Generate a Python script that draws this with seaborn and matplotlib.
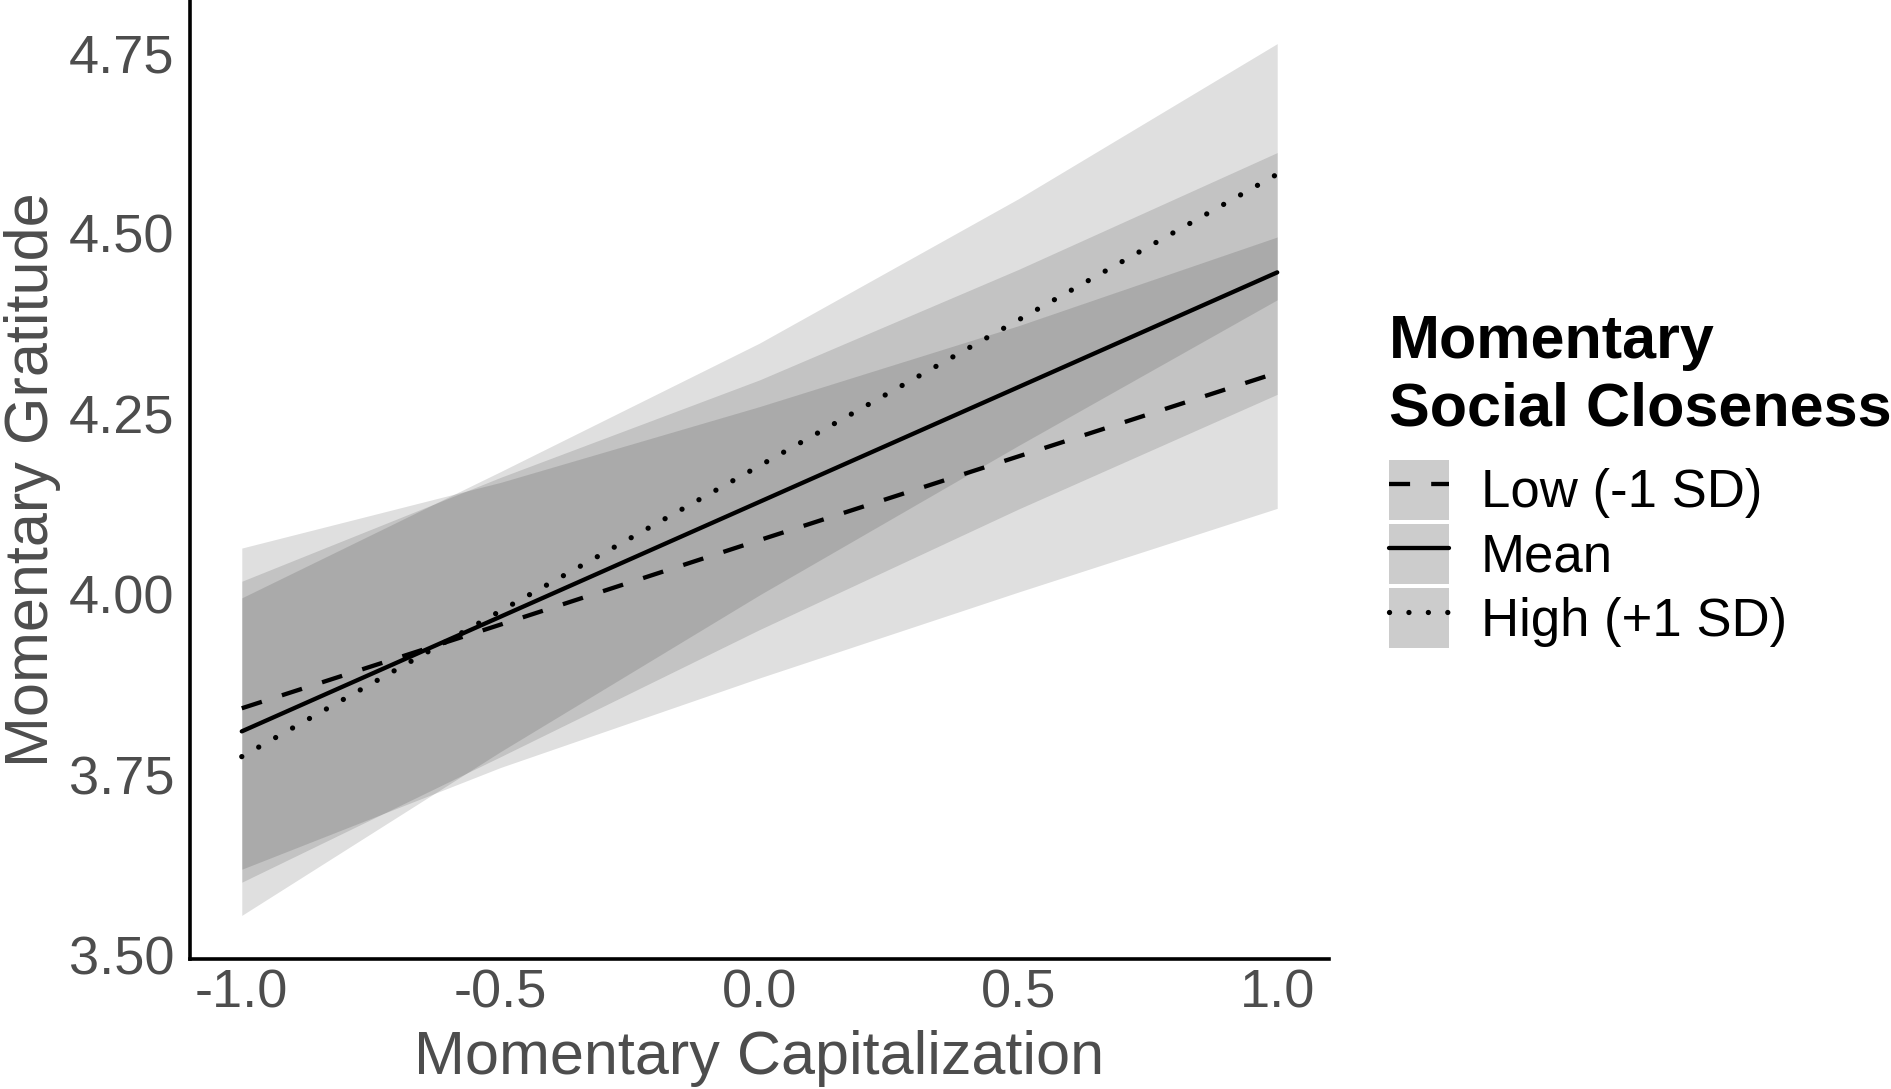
import numpy as np
import pandas as pd
import seaborn as sns
import matplotlib.pyplot as plt
from matplotlib.patches import Patch
from matplotlib.lines import Line2D
from matplotlib.legend_handler import HandlerTuple

# values
capitalization = [-1.0, -0.5, 0.0, 0.5, 1.0]
closeness_levels = ['Low (-1 SD)', 'Mean', 'High (+1 SD)']

# predicted momentary gratitude
pred_low = [3.842, 3.958, 4.075, 4.191, 4.307]
pred_mean = [3.810, 3.969, 4.128, 4.287, 4.446]
pred_high = [3.775, 3.977, 4.178, 4.380, 4.582]

# confidence band edges
ci_low_upper = [4.064, 4.155, 4.260, 4.372, 4.495]
ci_low_lower = [3.619, 3.760, 3.884, 4.003, 4.119]
ci_mean_upper = [4.018, 4.162, 4.297, 4.450, 4.612]
ci_mean_lower = [3.601, 3.775, 3.951, 4.118, 4.277]
ci_high_upper = [3.995, 4.170, 4.348, 4.548, 4.763]
ci_high_lower = [3.555, 3.782, 3.999, 4.206, 4.408]

x_ticks = [-1.0, -0.5, 0.0, 0.5, 1.0]
y_ticks = [3.50, 3.75, 4.00, 4.25, 4.50, 4.75]

sns.set_theme(style='white')
plt.rcParams['font.family'] = ['Liberation Sans', 'DejaVu Sans']

df = pd.DataFrame({
    'capitalization': capitalization * 3,
    'gratitude': pred_low + pred_mean + pred_high,
    'closeness': np.repeat(closeness_levels, len(capitalization)),
})

bands = {
    'Low (-1 SD)': (ci_low_lower, ci_low_upper),
    'Mean': (ci_mean_lower, ci_mean_upper),
    'High (+1 SD)': (ci_high_lower, ci_high_upper),
}

line_styles = {'Low (-1 SD)': (0, (4.9, 4.9)), 'Mean': '-', 'High (+1 SD)': (0, (0.01, 3.67))}
cap_styles = {'Low (-1 SD)': 'butt', 'Mean': 'butt', 'High (+1 SD)': 'round'}
line_widths = {'Low (-1 SD)': 3.1, 'Mean': 3.1, 'High (+1 SD)': 3.8}

fig = plt.figure(figsize=(18.91, 10.89), dpi=100)
ax = fig.add_axes([190 / 1891, 130 / 1089, (1329 - 190) / 1891, 959 / 1089])

# ribbons first
for level in closeness_levels:
    lo, hi = bands[level]
    ax.fill_between(capitalization, lo, hi, color='black', alpha=0.125, lw=0)

for level in closeness_levels:
    sns.lineplot(data=df[df['closeness'] == level], x='capitalization', y='gratitude',
                 color='black', lw=line_widths[level], linestyle=line_styles[level],
                 dash_capstyle=cap_styles[level], ax=ax)

ax.set_xlim(-1.1, 1.1)
ax.set_ylim(3.4946, 4.8234)
ax.set_xticks(x_ticks)
ax.set_xticklabels([f'{v:.1f}' for v in x_ticks])
ax.set_yticks(y_ticks)
ax.set_yticklabels([f'{v:.2f}' for v in y_ticks])
ax.tick_params(axis='both', length=0, labelsize=39, colors='#4d4d4d')
ax.tick_params(axis='x', pad=7)
ax.tick_params(axis='y', pad=11)

for side in ['top', 'right']:
    ax.spines[side].set_visible(False)
for side in ['left', 'bottom']:
    ax.spines[side].set_color('black')
    ax.spines[side].set_linewidth(2.6)

ax.set_xlabel('Momentary Capitalization', fontsize=44, color='#4d4d4d', labelpad=8)
ax.set_ylabel('Momentary Gratitude', fontsize=44, color='#4d4d4d', labelpad=6)

# legend: grey key with the line drawn over it
handles = []
for level in closeness_levels:
    key = Patch(facecolor='#cccccc', edgecolor='none')
    ln = Line2D([], [], color='black', lw=line_widths[level], linestyle=line_styles[level],
                dash_capstyle=cap_styles[level])
    handles.append((key, ln))

leg = ax.legend(handles, closeness_levels,
                handler_map={tuple: HandlerTuple(ndivide=1, pad=0)},
                title='Momentary\nSocial Closeness',
                title_fontproperties={'weight': 'bold', 'size': 44},
                fontsize=38, frameon=False, loc='upper left',
                bbox_to_anchor=(1389 / 1891, 1 - 314 / 1089), bbox_transform=fig.transFigure,
                borderpad=0, borderaxespad=0, handlelength=1.137, handleheight=1.372,
                handletextpad=0.6, labelspacing=0.08, alignment='left')
leg.get_title().set_linespacing(1.25)
leg.get_title().set_color('black')
for t in leg.get_texts():
    t.set_color('black')
# more room between the title and the keys
leg._legend_box.sep = 15

fig.savefig('out.png', dpi=100)
